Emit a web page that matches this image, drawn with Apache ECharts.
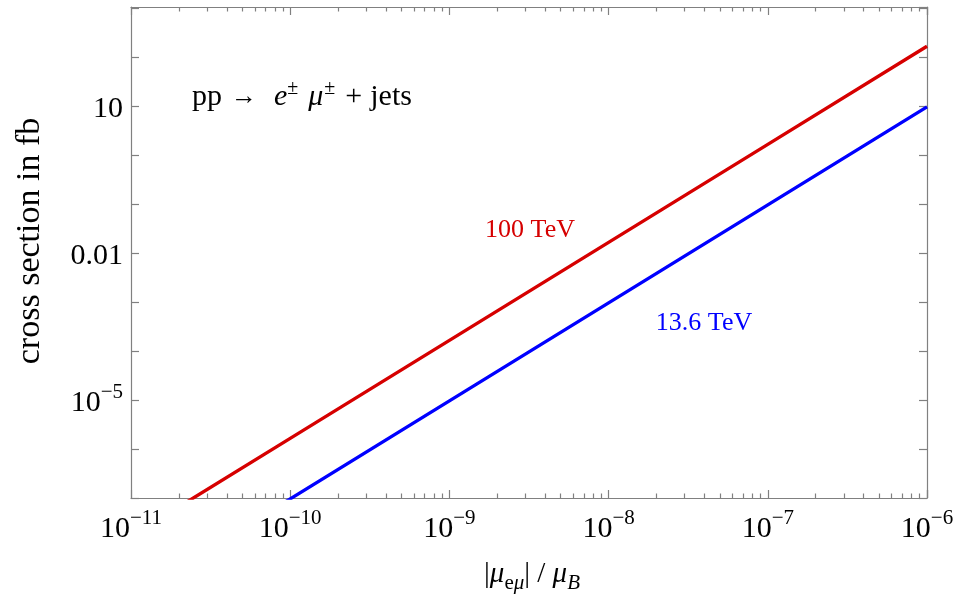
<!DOCTYPE html>
<html>
<head>
<meta charset="utf-8">
<script src="https://cdn.jsdelivr.net/npm/echarts@6/dist/echarts.min.js"></script>
<style>
html,body{margin:0;padding:0;background:#fff;}
#chart{width:967px;height:601px;}
</style>
</head>
<body>
<div id="chart"></div>
<script>
// ---- data ----
const muValues   = [1e-11, 1e-10, 1e-9, 1e-8, 1e-7, 1e-6];          // |mu_e mu| / mu_B
const sigma100   = [1.65e-8, 1.65e-6, 1.65e-4, 1.65e-2, 1.65, 165];  // 100 TeV, fb
const sigma13p6  = [9.6e-10, 9.6e-8, 9.6e-6, 9.6e-4, 9.6e-2, 9.6];   // 13.6 TeV, fb
const yTickLabels = {"1": "10", "-2": "0.01", "-5": "10^-5"};
const seriesNames = ["100 TeV", "13.6 TeV"];

const FONT = "'Liberation Serif', 'Times New Roman', serif";
const FRAME = '#808080';

function powLabel(e) {
  return '{b|10}{s|' + (e < 0 ? '\u2212' + (-e) : e) + '}';
}
const rich = {
  b: {fontFamily: FONT, fontSize: 30, color: '#000', lineHeight: 36, verticalAlign: 'bottom'},
  s: {fontFamily: FONT, fontSize: 21, color: '#000', lineHeight: 19, verticalAlign: 'top'}
};

function xFmt(v) {
  const l = Math.log10(v); const e = Math.round(l);
  if (Math.abs(l - e) > 1e-6) return '';
  return powLabel(e);
}
function yFmt(v) {
  const l = Math.log10(v); const e = Math.round(l);
  if (Math.abs(l - e) > 1e-6) return '';
  const t = yTickLabels[String(e)];
  if (!t) return '';
  if (t.indexOf('^') >= 0) return powLabel(e);
  return '{b|' + t + '}';
}

const axisLine = {show: true, onZero: false, lineStyle: {color: FRAME, width: 1.2}};
function xAx(pos, showLabel) {
  return {
    type: 'log', logBase: 10, min: 1e-11, max: 1e-6, interval: 1, splitNumber: 5, position: pos,
    axisLine: axisLine,
    axisTick: {show: true, inside: true, length: 8, lineStyle: {color: FRAME, width: 1.2}},
    minorTick: {show: true, splitNumber: 9, length: 4.5, lineStyle: {color: FRAME, width: 1.2}},
    splitLine: {show: false}, minorSplitLine: {show: false},
    axisLabel: {show: showLabel, formatter: xFmt, rich: rich, margin: 10}
  };
}
function yAx(pos, showLabel) {
  return {
    type: 'log', logBase: 10, min: 1e-7, max: 1.047e3, interval: 1, splitNumber: 10, position: pos,
    axisLine: axisLine,
    axisTick: {show: true, inside: true, length: 8, lineStyle: {color: FRAME, width: 1.2}},
    splitLine: {show: false},
    axisLabel: {show: showLabel, formatter: yFmt, rich: rich, margin: 8, showMinLabel: true, showMaxLabel: false}
  };
}

const chart = echarts.init(document.getElementById('chart'), null, {renderer: 'canvas'});
chart.setOption({
  animation: false,
  backgroundColor: '#fff',
  grid: {left: 131, right: 40, top: 7, bottom: 103, containLabel: false},
  xAxis: [xAx('bottom', true), xAx('top', false)],
  yAxis: [yAx('left', true), yAx('right', false)],
  series: [
    {name: seriesNames[0], type: 'line', xAxisIndex: 0, yAxisIndex: 0, showSymbol: false, clip: true,
     data: muValues.map((m, i) => [m, sigma100[i]]), lineStyle: {color: '#d60000', width: 3.4}, itemStyle: {color: '#d60000'}},
    {name: seriesNames[1], type: 'line', xAxisIndex: 0, yAxisIndex: 0, showSymbol: false, clip: true,
     data: muValues.map((m, i) => [m, sigma13p6[i]]), lineStyle: {color: '#0000ff', width: 3.4}, itemStyle: {color: '#0000ff'}}
  ],
  graphic: [
    {type: 'text', x: 30, y: 241, rotation: Math.PI / 2,
     style: {text: 'cross section in fb', font: '34px ' + FONT, fill: '#000', align: 'center', verticalAlign: 'middle'}},
    {type: 'text', x: 532, y: 577,
     style: {text: '{n||}{i|\u03bc}{ss|e}{si|\u03bc}{n|| / }{i|\u03bc}{si|B}', align: 'center', verticalAlign: 'middle',
       rich: {
         n: {fontFamily: FONT, fontSize: 29, fill: '#000', lineHeight: 34, verticalAlign: 'top'},
         i: {fontFamily: FONT, fontSize: 29, fontStyle: 'italic', fill: '#000', lineHeight: 34, verticalAlign: 'top'},
         ss: {fontFamily: FONT, fontSize: 21, fill: '#000', lineHeight: 24, verticalAlign: 'bottom'},
         si: {fontFamily: FONT, fontSize: 21, fontStyle: 'italic', fill: '#000', lineHeight: 24, verticalAlign: 'bottom'}
       }}},
    {type: 'text', x: 192, y: 97,
     style: {text: '{n|pp}{a|\u2192}{i|e}{s|\u00b1}{mu|\u03bc}{s2|\u00b1}{plus|+}{jets|jets}', align: 'left', verticalAlign: 'middle',
       rich: {
         n: {fontFamily: FONT, fontSize: 30, fill: '#000', lineHeight: 36},
         a: {fontFamily: FONT, fontSize: 26, fill: '#000', lineHeight: 36, padding: [0, 17, 0, 9]},
         i: {fontFamily: FONT, fontSize: 30, fontStyle: 'italic', fill: '#000', lineHeight: 36},
         mu: {fontFamily: FONT, fontSize: 30, fontStyle: 'italic', fill: '#000', lineHeight: 36, padding: [0, 0, 0, 10]},
         s: {fontFamily: FONT, fontSize: 20, fill: '#000', lineHeight: 19, verticalAlign: 'top'},
         s2: {fontFamily: FONT, fontSize: 20, fill: '#000', lineHeight: 19, verticalAlign: 'top', padding: [0, 0, 0, 1]},
         plus: {fontFamily: FONT, fontSize: 30, fill: '#000', lineHeight: 36, padding: [0, 0, 0, 10]},
         jets: {fontFamily: FONT, fontSize: 30, fill: '#000', lineHeight: 36, padding: [0, 0, 0, 8]}
       }}},
    {type: 'text', x: 530, y: 230,
     style: {text: seriesNames[0], font: '26px ' + FONT, fill: '#d60000', align: 'center', verticalAlign: 'middle'}},
    {type: 'text', x: 704, y: 323,
     style: {text: seriesNames[1], font: '26px ' + FONT, fill: '#0000ff', align: 'center', verticalAlign: 'middle'}}
  ]
});
</script>
</body>
</html>
